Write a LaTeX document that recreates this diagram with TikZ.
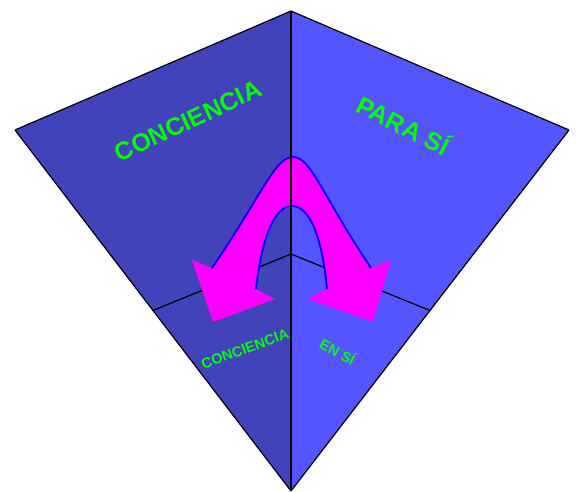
\documentclass[tikz,border=0pt]{standalone}
\usepackage{fontspec}
\setmainfont{Liberation Sans}
\definecolor{leftface}{RGB}{66,66,187}
\definecolor{rightface}{RGB}{85,85,255}
\definecolor{textgreen}{RGB}{0,255,0}
\definecolor{arrowpink}{RGB}{255,0,255}
\definecolor{archblue}{RGB}{0,0,255}
\begin{document}
\begin{tikzpicture}[x=1pt,y=-1pt]
    \tikzset{
        edgeline/.style={draw=black, line width=1.2pt},
        bigtext/.style={text=textgreen, font=\fontsize{25}{30}\selectfont\bfseries, inner sep=0pt},
        smalltext/.style={text=textgreen, font=\fontsize{14.5}{17}\selectfont\bfseries, inner sep=0pt},
        arch/.style={draw=archblue, line width=1.8pt}
    }
    \useasboundingbox (0,0) rectangle (576,491);

    \coordinate (top) at (291,11);
    \coordinate (left) at (15,130);
    \coordinate (right) at (569,130);
    \coordinate (bottom) at (291,491);
    \coordinate (centre) at (291,254);
    \coordinate (lmid) at (153,310.5);
    \coordinate (rmid) at (430,310.5);

    % the two faces
    \fill[leftface] (top) -- (left) -- (bottom) -- cycle;
    \fill[rightface] (top) -- (right) -- (bottom) -- cycle;
    \foreach \x/\y in {%
        top/left,left/bottom,top/right,right/bottom,centre/lmid,centre/rmid%
    }{
        \draw[edgeline] (\x) -- (\y);
    }

    % the arrow
    \fill[arrowpink] (212,268) -- (192,260) -- (213,322) -- (275,299) -- (256,289)
        .. controls (262,235) and (275,206) .. (292,206)
        .. controls (309,206) and (322,235) .. (327,289)
        -- (308,299) -- (373,322) -- (391,260) -- (371,268)
        .. controls (322,195) and (311,157) .. (293,157)
        .. controls (275,157) and (262,195) .. (212,268) -- cycle;
    \draw[arch] (212,268) .. controls (262,195) and (275,157) .. (293,157)
        .. controls (311,157) and (322,195) .. (371,268);
    \draw[arch] (256,289) .. controls (262,235) and (275,206) .. (292,206)
        .. controls (309,206) and (322,235) .. (327,289);

    \draw[edgeline, line width=1.6pt] (top) -- (bottom);

    \node[bigtext, rotate=25] (conc) at (188,121) {CONCIENCIA};
    \node[bigtext, rotate=-27] (para) at (404,124) {PARA SÍ};
    \node[smalltext, rotate=20] (concb) at (245,349) {CONCIENCIA};
    \node[smalltext, rotate=-28] (ensi) at (338,351) {EN SÍ};
\end{tikzpicture}
\end{document}
